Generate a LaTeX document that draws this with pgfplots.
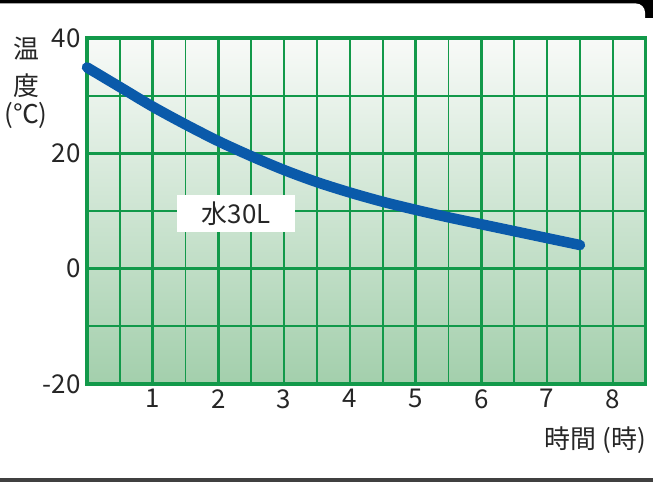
\documentclass[border=0pt]{standalone}
\usepackage{fontspec}
\setmainfont{Noto Sans CJK JP}
\usepackage{pgfplots}
\pgfplotsset{compat=1.18}

\definecolor{gridgreen}{RGB}{18,153,74}
\definecolor{curveblue}{RGB}{10,90,170}
\definecolor{bgtop}{RGB}{248,250,248}
\definecolor{bgbottom}{RGB}{163,207,172}

\begin{document}
\begin{tikzpicture}
    \useasboundingbox (0bp,0bp) rectangle (653bp,482bp);
    % frame of the screenshot
    \fill[black] (0bp,464bp) rectangle (653bp,482bp);
    \fill[white] (0bp,0bp) rectangle (653bp,464bp);
    \fill[white, rounded corners=9bp] (-20bp,400bp) rectangle (645bp,478.5bp);
    \fill[black!75] (0bp,0bp) rectangle (653bp,3.5bp);

    \begin{axis}[
        scale only axis,
        width=558.7bp, height=346bp,
        anchor=south west, at={(87bp,98bp)},
        xmin=0, xmax=8.5, ymin=-20, ymax=40,
        xtick={1,...,8}, ytick={-20,0,20,40},
        minor xtick={0.5,1.5,...,7.5}, minor ytick={-10,10,30},
        grid=both,
        major grid style={line width=2.6bp, color=gridgreen},
        minor grid style={line width=1.8bp, color=gridgreen},
        axis line style={line width=3.5bp, color=gridgreen},
        tick style={draw=none},
        axis background/.style={shade, top color=bgtop, bottom color=bgbottom},
        /pgf/number format/assume math mode=true,
        tick label style={font=\fontsize{26}{26}\selectfont, text=black!85},
        x tick label style={yshift=-2bp},
        y tick label style={xshift=-3bp},
        clip=false,
    ]
        \addplot[line width=10.5bp, color=curveblue, line cap=round, smooth] coordinates {
            (0,34.9) (0.5,31.5) (1,28.1) (1.5,25.0) (2,22.1) (2.5,19.5)
            (3,17.1) (3.5,15.0) (4,13.2) (4.5,11.6) (5,10.2) (5.5,8.9)
            (6,7.7) (6.5,6.5) (7,5.3) (7.5,4.1)
        };
        \node[fill=white, inner sep=0pt, minimum width=118bp, minimum height=37bp,
              font=\fontsize{26}{26}\selectfont, text=black!85]
            at (axis cs:2.27,9.6) {水30L};
    \end{axis}

    % axis titles
    \begin{scope}[every node/.style={font=\fontsize{26}{26}\selectfont, text=black!85, inner sep=0pt}]
        \node at (26bp,433bp) {温};
        \node at (26bp,396bp) {度};
        \node at (26bp,367bp) {(℃)};
        \node[anchor=east] at (646bp,42bp) {時間 (時)};
    \end{scope}
\end{tikzpicture}
\end{document}
